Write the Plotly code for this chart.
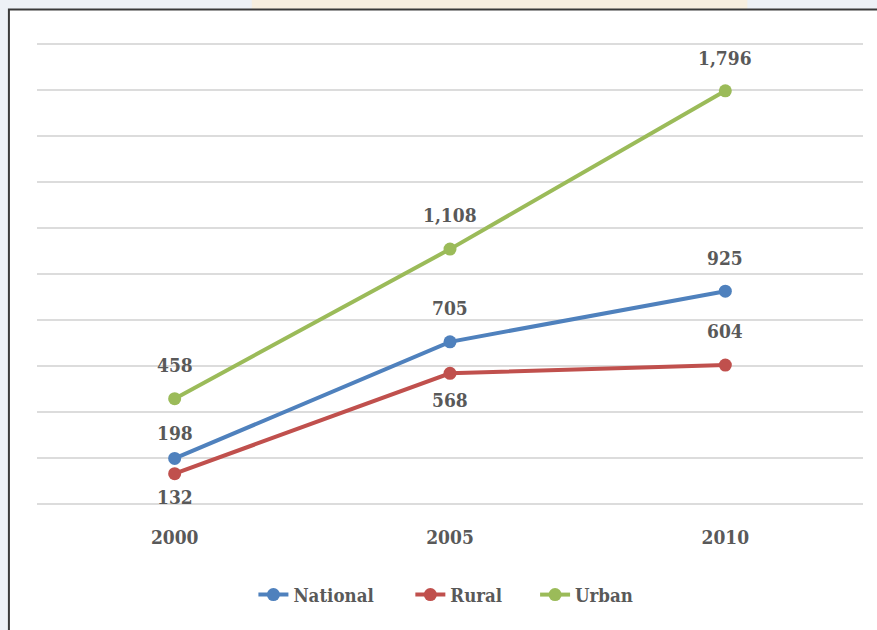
import plotly.graph_objects as go

years = ["2000", "2005", "2010"]
series_names = ["National", "Rural", "Urban"]
national = [198, 705, 925]
rural = [132, 568, 604]
urban = [458, 1108, 1796]

# label offsets in px (positive = above the point)
label_shift = {
    "National": [25, 34, 33],
    "Rural": [-23, -27, 34],
    "Urban": [34, 34, 33],
}

colors = {"National": "#4F81BD", "Rural": "#C0504D", "Urban": "#9BBB59"}
values = {"National": national, "Rural": rural, "Urban": urban}

FONT = "DejaVu Serif Condensed, DejaVu Serif, serif"
TEXT = "#595959"

fig = go.Figure()

# one legend per series so the entries can be spaced like the original
legend_ids = ["legend", "legend2", "legend3"]
legend_x = [0.262, 0.452, 0.603]

for name, lid in zip(series_names, legend_ids):
    fig.add_trace(go.Scatter(
        x=years,
        y=values[name],
        mode="lines+markers",
        name=name,
        legend=lid,
        line=dict(color=colors[name], width=4),
        marker=dict(color=colors[name], size=13),
    ))

# data labels (category axis -> use the category index)
annotations = []
for name in series_names:
    for i, v in enumerate(values[name]):
        annotations.append(dict(
            x=i, y=v, xref="x", yref="y",
            text=f"{v:,}",
            showarrow=False,
            yshift=label_shift[name][i],
            font=dict(family=FONT, size=19, color=TEXT, weight="bold"),
        ))

# white chart box on top of the faded background
shapes = [
    dict(type="rect", xref="paper", yref="paper", layer="below",
         x0=0.26, x1=0.86, y0=1.0, y1=1.2,
         fillcolor="#f7efe0", line=dict(width=0)),
    dict(type="rect", xref="paper", yref="paper", layer="below",
         x0=-0.034, x1=1.2, y0=-0.5, y1=1.059,
         fillcolor="white", line=dict(color="#3a3a3a", width=2)),
]

legend_style = dict(
    orientation="h",
    y=-0.195, yanchor="middle",
    xanchor="left",
    font=dict(family=FONT, size=18.5, color=TEXT, weight="bold"),
    bgcolor="rgba(0,0,0,0)",
)
legends = {lid: dict(legend_style, x=lx) for lid, lx in zip(legend_ids, legend_x)}

fig.update_layout(
    width=877,
    height=630,
    margin=dict(l=37, r=14, t=37, b=126),
    paper_bgcolor="#edf1f6",
    plot_bgcolor="white",
    showlegend=True,
    xaxis=dict(
        type="category",
        range=[-0.5, 2.5],
        showgrid=False,
        showline=False,
        ticks="",
        tickfont=dict(family=FONT, size=19, color=TEXT, weight="bold"),
        ticklabelstandoff=20,
    ),
    yaxis=dict(
        range=[0, 2030],
        tickvals=list(range(0, 2001, 200)),
        showticklabels=False,
        gridcolor="#dcdcdc",
        gridwidth=1.5,
        zeroline=True,
        zerolinecolor="#dcdcdc",
        zerolinewidth=1.5,
    ),
    annotations=annotations,
    shapes=shapes,
    **legends,
)

fig.write_html(
    "out.html",
    config={"displayModeBar": False},
    post_script="document.body.style.margin='0';",
)
